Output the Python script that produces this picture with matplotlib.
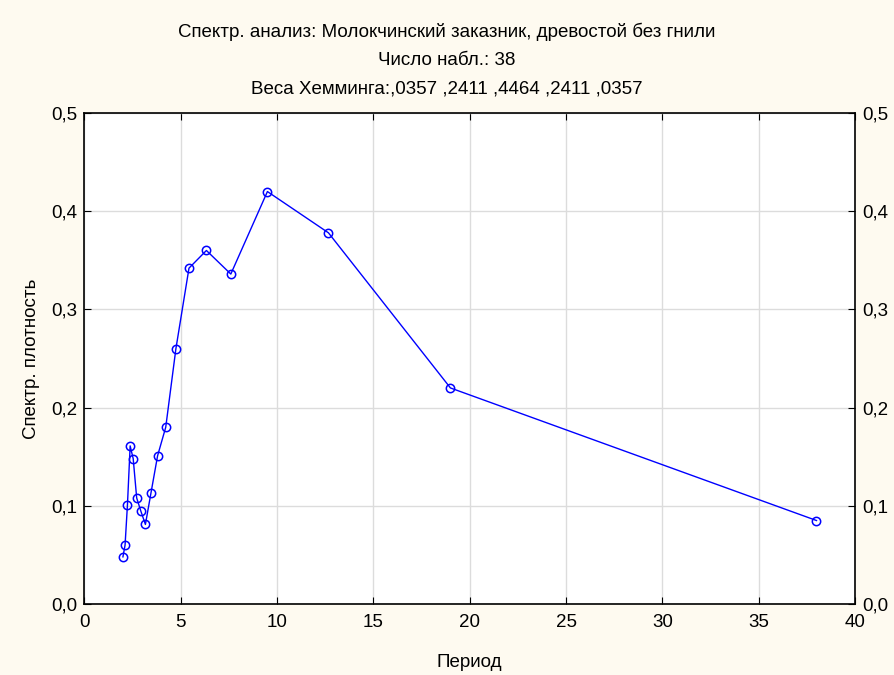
import matplotlib.pyplot as plt
from matplotlib.ticker import FuncFormatter

plt.rcParams['font.family'] = ['Liberation Sans', 'DejaVu Sans']

# Period (38 / k) and spectral density
period = [38.0, 19.0, 12.667, 9.5, 7.6, 6.333, 5.429, 4.75, 4.222, 3.8,
          3.455, 3.167, 2.923, 2.714, 2.533, 2.375, 2.235, 2.111, 2.0]
density = [0.085, 0.220, 0.378, 0.420, 0.336, 0.360, 0.342, 0.260, 0.180, 0.151,
           0.113, 0.081, 0.095, 0.108, 0.148, 0.161, 0.101, 0.060, 0.048]

title_lines = ["Спектр. анализ: Молокчинский заказник, древостой без гнили",
               "Число набл.: 38",
               "Веса Хемминга:,0357 ,2411 ,4464 ,2411 ,0357"]

bg = '#fefaf0'
fig = plt.figure(figsize=(8.94, 6.75), dpi=100, facecolor=bg)
ax = fig.add_axes([0.0944, 0.1052, 0.862, 0.7274])
ax.set_facecolor('white')

ax.plot(period, density, color='#0000ff', lw=1.0, marker='o', ms=6,
        mfc='none', mec='#0000ff', mew=1.1, zorder=3)

ax.set_xlim(0, 40)
ax.set_ylim(0, 0.5)
ax.set_xticks(range(0, 41, 5))
ax.set_yticks([0, 0.1, 0.2, 0.3, 0.4, 0.5])
comma = FuncFormatter(lambda v, p: f"{v:.1f}".replace('.', ','))
ax.yaxis.set_major_formatter(comma)
ax.grid(True, color='#dcdcdc', lw=1.0)
ax.set_axisbelow(True)

ax.tick_params(direction='in', length=5, labelsize=13.5, colors='black',
               top=True, right=True, labelright=True, pad=5)
ax.tick_params(axis='x', pad=7)
for s in ax.spines.values():
    s.set_linewidth(1.2)

ax.set_xlabel("Период", fontsize=13.5, labelpad=17)
ax.set_ylabel("Спектр. плотность", fontsize=13.5, labelpad=8)

for i, line in enumerate(title_lines):
    fig.text(0.5, 1 - (32 + 28.5 * i) / 675, line, ha='center', va='center', fontsize=13.5)

fig.savefig('out.png', dpi=100, facecolor=bg)
